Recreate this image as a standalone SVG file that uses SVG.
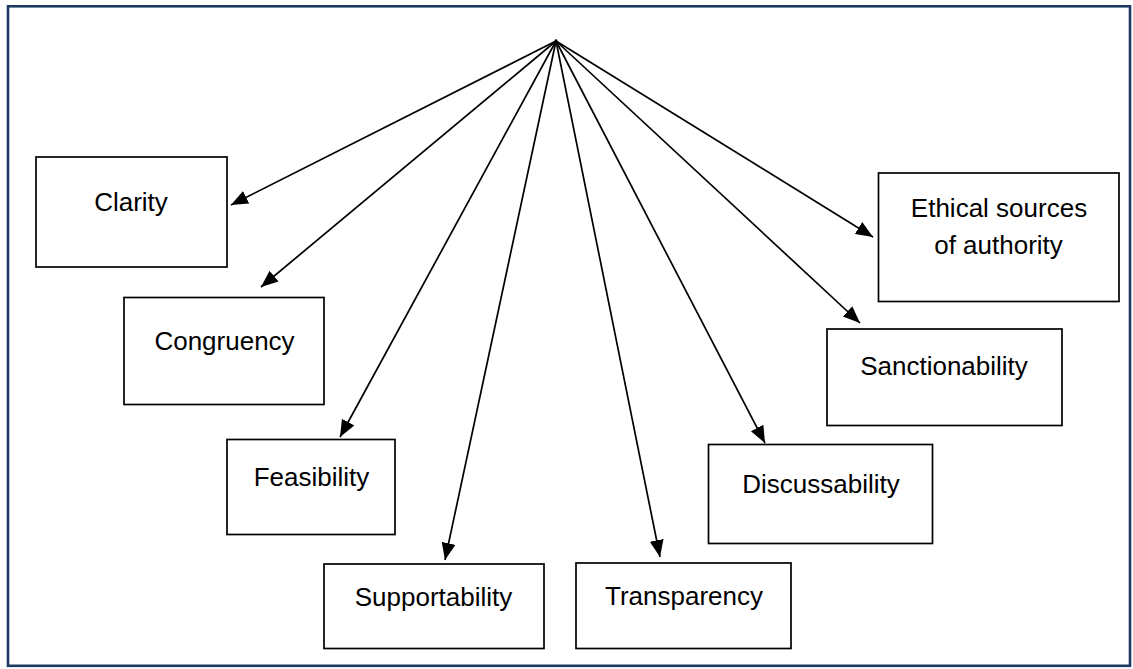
<svg xmlns="http://www.w3.org/2000/svg" width="1133" height="669" viewBox="0 0 1133 669">
<style>
.box{fill:#fff;stroke:#000;stroke-width:1.7}
.lbl{font-family:"Liberation Sans",Arial,sans-serif;font-size:26px;fill:#000;text-anchor:middle}
.conn{stroke:#000;stroke-width:1.7;fill:none;marker-end:url(#ah)}
</style>
<defs>
<marker id="ah" markerUnits="userSpaceOnUse" markerWidth="18" markerHeight="15" refX="17" refY="7" orient="auto">
<path d="M0,0 L17,7 L0,14 z" fill="#000"/>
</marker>
</defs>
<rect x="0" y="0" width="1133" height="669" fill="#fff"/>
<rect id="frame" x="8" y="6.3" width="1122" height="659.5" fill="none" stroke="#1F3864" stroke-width="2.6"/>
<g id="connectors">
<path class="conn" d="M556,41 L231,205"/>
<path class="conn" d="M556,41 L261,287"/>
<path class="conn" d="M556,41 L340,437"/>
<path class="conn" d="M556,41 L445,560"/>
<path class="conn" d="M556,41 L660,557"/>
<path class="conn" d="M556,41 L765,443"/>
<path class="conn" d="M556,41 L860,323"/>
<path class="conn" d="M556,41 L873,237"/>
</g>
<g id="clarity"><rect class="box" x="36" y="157" width="191" height="110"/><text class="lbl" x="131" y="211">Clarity</text></g>
<g id="congruency"><rect class="box" x="124" y="297.5" width="200" height="107"/><text class="lbl" x="224.5" y="350">Congruency</text></g>
<g id="feasibility"><rect class="box" x="227" y="439.5" width="168" height="95"/><text class="lbl" x="311.5" y="486">Feasibility</text></g>
<g id="supportability"><rect class="box" x="324" y="564" width="220" height="84.5"/><text class="lbl" x="433.5" y="606">Supportability</text></g>
<g id="transparency"><rect class="box" x="576" y="563" width="215" height="85.5"/><text class="lbl" x="684" y="605">Transparency</text></g>
<g id="discussability"><rect class="box" x="708.5" y="444.5" width="224" height="99"/><text class="lbl" x="821" y="493">Discussability</text></g>
<g id="sanctionability"><rect class="box" x="827" y="329" width="235" height="96.5"/><text class="lbl" x="944" y="375">Sanctionability</text></g>
<g id="ethical"><rect class="box" x="878.5" y="173" width="240.5" height="128.5"/><text class="lbl" x="999" y="217">Ethical sources</text><text class="lbl" x="998.5" y="254">of authority</text></g>
<circle cx="556" cy="40.5" r="1.3" fill="#000"/>
</svg>
